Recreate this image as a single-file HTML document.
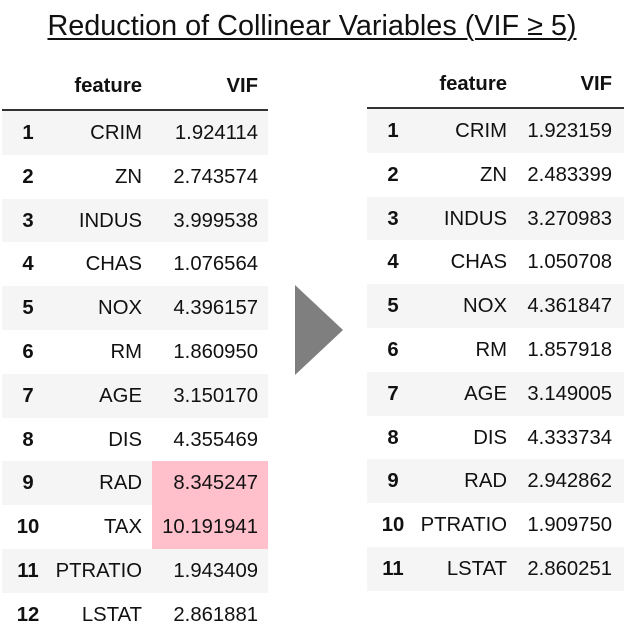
<!DOCTYPE html>
<html><head><meta charset="utf-8"><style>
body{margin:0;width:624px;height:634px;background:#fff;position:relative;overflow:hidden;font-family:"Liberation Sans",Arial,sans-serif;color:#111}
.t{position:absolute;white-space:nowrap}
.title{left:0;width:624px;text-align:center;top:10px;font-size:28.8px;text-decoration:underline;text-decoration-thickness:1.5px;text-underline-offset:3px}
.c{position:absolute;font-size:20.3px;line-height:22px}
.r{text-align:right}
.b{font-weight:bold}
</style></head><body>
<div class="t title">Reduction of Collinear Variables (VIF ≥ 5)</div>
<svg style="position:absolute;left:0;top:0" width="624" height="634">
<polygon points="295,285 343,330 295,375" fill="#7f7f7f"/>
</svg>
<div id="root"></div>
<script>
const leftFeatures=["CRIM","ZN","INDUS","CHAS","NOX","RM","AGE","DIS","RAD","TAX","PTRATIO","LSTAT"];
const leftVIF=["1.924114","2.743574","3.999538","1.076564","4.396157","1.860950","3.150170","4.355469","8.345247","10.191941","1.943409","2.861881"];
const rightFeatures=["CRIM","ZN","INDUS","CHAS","NOX","RM","AGE","DIS","RAD","PTRATIO","LSTAT"];
const rightVIF=["1.923159","2.483399","3.270983","1.050708","4.361847","1.857918","3.149005","4.333734","2.942862","1.909750","2.860251"];
const root=document.getElementById('root');
function add(parent,cls,style,txt){const d=document.createElement('div');d.className=cls;d.style.cssText=style;if(txt!==undefined)d.textContent=txt;parent.appendChild(d);return d;}
function table(name,x0,x1,lineY,idxC,featR,vifR,feats,vifs,pitch){
  const g=document.createElement('div');
  
  
  root.appendChild(g);
  let h=add(g,'c b r',`left:${featR-120}px;width:120px;top:${lineY-35}px`,'feature');
  
  
  h=add(g,'c b r',`left:${vifR-120}px;width:120px;top:${lineY-35}px`,'VIF');
  
  
  const ln=add(g,'',`position:absolute;left:${x0}px;width:${x1-x0}px;top:${lineY-1}px;height:2px;background:#333`);
  
  
  feats.forEach((f,i)=>{
    const top=lineY+1+i*pitch;
    const row=add(g,'',`position:absolute;left:${x0}px;width:${x1-x0}px;top:${top}px;height:${pitch}px;background:${i%2==0?'#f5f5f5':'#fff'}`);
    
    
    const v=parseFloat(vifs[i]);
    if(v>=5){
      const p=add(g,'',`position:absolute;left:${vifR-106}px;width:${x1-vifR+106}px;top:${top}px;height:${pitch}px;background:#ffc0cb`);
      
      
    }
    const cy=top+pitch/2-11;
    let c=add(g,'c b',`left:${idxC-20}px;width:40px;text-align:center;top:${cy}px`,String(i+1));
    
    
    c=add(g,'c r',`left:${featR-120}px;width:120px;top:${cy}px`,f);
    
    
    c=add(g,'c r',`left:${vifR-120}px;width:120px;top:${cy}px`,vifs[i]);
    
    
  });
}
table('before-table',2,268,110,28,142,258,leftFeatures,leftVIF,43.8);
table('after-table',367,624,108,393,507,612,rightFeatures,rightVIF,43.8);
</script>
</body></html>
